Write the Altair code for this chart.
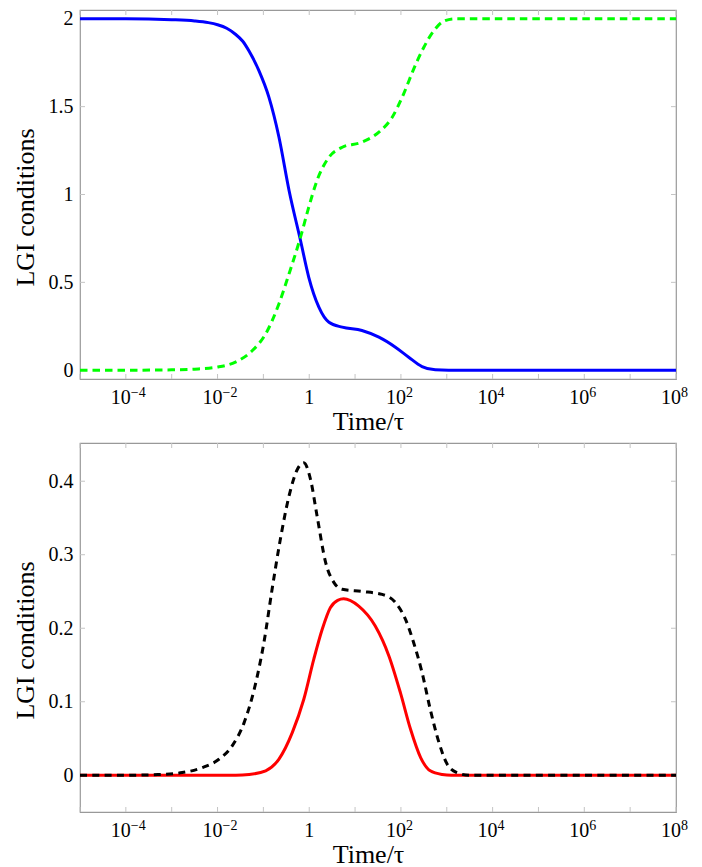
import altair as alt
import pandas as pd

# ---------------- data (log10 of Time/tau, value) ----------------
blue_logt = [-5, -4, -3, -2.5, -2.2, -2.0, -1.8, -1.61, -1.45, -1.31, -1.10, -0.88, -0.66, -0.44,
             -0.19, -0.01, 0.21, 0.43, 0.72, 1.15, 1.52, 1.88, 2.17, 2.46, 2.75, 3.04, 8]
blue_val = [2.0, 2.0, 1.995, 1.988, 1.978, 1.966, 1.946, 1.912, 1.872, 1.815, 1.706, 1.554, 1.326, 1.023,
            0.738, 0.529, 0.359, 0.273, 0.245, 0.226, 0.188, 0.131, 0.074, 0.021, 0.002, 0.0, 0.0]

green_logt = [-5, -4, -3, -2.5, -2.0, -1.61, -1.24, -0.95, -0.66, -0.44, -0.19, -0.01, 0.17, 0.43,
              0.72, 1.15, 1.52, 1.81, 2.06, 2.28, 2.50, 2.72, 2.93, 3.17, 8]
green_val = [0.0, 0.0, 0.002, 0.006, 0.018, 0.046, 0.112, 0.207, 0.378, 0.549, 0.757, 0.928, 1.08, 1.212,
             1.269, 1.298, 1.355, 1.44, 1.573, 1.715, 1.838, 1.933, 1.986, 2.0, 2.0]

black_logt = [-5, -4, -3.3, -2.77, -2.33, -1.97, -1.68, -1.42, -1.20, -0.99, -0.81, -0.63, -0.44,
              -0.26, -0.12, 0.03, 0.17, 0.36, 0.54, 0.72, 1.15, 1.59, 1.88, 2.10, 2.28, 2.46,
              2.64, 2.83, 3.01, 3.22, 3.49, 8]
black_val = [0.0, 0.0, 0.001, 0.0036, 0.0104, 0.0217, 0.040, 0.0716, 0.117, 0.180, 0.253, 0.321, 0.380,
             0.416, 0.425, 0.402, 0.353, 0.289, 0.262, 0.253, 0.250, 0.246, 0.235, 0.212, 0.180, 0.140,
             0.0897, 0.0444, 0.015, 0.0036, 0.0, 0.0]

red_logt = [-5, -1.6, -1.31, -0.95, -0.66, -0.37, -0.12, 0.10, 0.28, 0.46, 0.62, 0.75, 1.08, 1.44,
            1.74, 1.99, 2.21, 2.43, 2.64, 2.90, 3.1, 8]
red_val = [0.0, 0.0, 0.001, 0.006, 0.022, 0.058, 0.103, 0.158, 0.198, 0.228, 0.238, 0.240, 0.230, 0.203,
           0.162, 0.112, 0.0625, 0.024, 0.006, 0.001, 0.0, 0.0]

# x tick labels: base and superscript exponent
x_tick_exps = [-4, -2, 0, 2, 4, 6, 8]
x_tick_bases = ["10", "10", "1", "10", "10", "10", "10"]
x_tick_sups = ["−4", "−2", "", "2", "4", "6", "8"]
x_minor_exps = list(range(-5, 9))

top_y_ticks = [0, 0.5, 1, 1.5, 2]
top_y_labels = ["0", "0.5", "1", "1.5", "2"]
bot_y_ticks = [0, 0.1, 0.2, 0.3, 0.4]
bot_y_labels = ["0", "0.1", "0.2", "0.3", "0.4"]

x_title = "Time/τ"
y_title = "LGI conditions"

# ---------------- styling ----------------
W, H = 596, 369
FONT = "Liberation Serif"
TICK_LEN = 5
TICK_COLOR = "#c4c4c4"
LABEL_SIZE = 20
SUP_SIZE = 14


def series_df(logt, vals):
    return pd.DataFrame({"t": [10.0 ** v for v in logt], "v": vals})


def y_label_expr(ticks, labels):
    return "".join(f"abs(datum.value - {t}) < 1e-6 ? '{lab}' : " for t, lab in zip(ticks, labels)) + "''"


label_df = pd.DataFrame({
    "t": [10.0 ** e for e in x_tick_exps],
    "base": x_tick_bases,
    "sup": x_tick_sups,
})
label_pow = label_df[label_df["sup"] != ""]
label_one = label_df[label_df["sup"] == ""]


def panel(series, y_domain, y_ticks, y_labels):
    x_enc = alt.X(
        "t:Q",
        scale=alt.Scale(type="log", domain=[1e-5, 1e8], nice=False),
        axis=alt.Axis(
            values=[10.0 ** e for e in x_tick_exps],
            labels=False,
            title=x_title,
            titleBaseline="alphabetic",
            titleY=50,
            titleX=288,
            titleAlign="center",
        ),
    )
    y_enc = alt.Y(
        "v:Q",
        scale=alt.Scale(domain=y_domain, nice=False, zero=False),
        axis=alt.Axis(
            values=y_ticks,
            labelExpr=y_label_expr(y_ticks, y_labels),
            title=y_title,
            labelPadding=7,
            labelBaseline="middle",
            titleBaseline="alphabetic",
            titleAlign="center",
            titleX=-47,
            titleY=197,
            labelOverlap=False,
        ),
    )
    layers = []
    xt = pd.DataFrame({"t": [10.0 ** e for e in x_minor_exps]})
    yt = pd.DataFrame({"v": y_ticks})
    layers.append(alt.Chart(xt).mark_rule(color=TICK_COLOR, strokeWidth=1).encode(
        x=x_enc, y=alt.value(H - TICK_LEN), y2=alt.value(H)))
    layers.append(alt.Chart(xt).mark_rule(color=TICK_COLOR, strokeWidth=1).encode(
        x=x_enc, y=alt.value(0), y2=alt.value(TICK_LEN)))
    layers.append(alt.Chart(yt).mark_rule(color=TICK_COLOR, strokeWidth=1).encode(
        y=y_enc, x=alt.value(0), x2=alt.value(TICK_LEN)))
    layers.append(alt.Chart(yt).mark_rule(color=TICK_COLOR, strokeWidth=1).encode(
        y=y_enc, x=alt.value(W - TICK_LEN), x2=alt.value(W)))
    # x tick labels (base + raised exponent)
    layers.append(alt.Chart(label_pow).mark_text(
        font=FONT, fontSize=LABEL_SIZE, align="right", baseline="alphabetic", dx=5, color="black"
    ).encode(x=x_enc, y=alt.value(H + 25), text="base:N"))
    layers.append(alt.Chart(label_pow).mark_text(
        font=FONT, fontSize=SUP_SIZE, align="left", baseline="alphabetic", dx=5, color="black"
    ).encode(x=x_enc, y=alt.value(H + 18), text="sup:N"))
    layers.append(alt.Chart(label_one).mark_text(
        font=FONT, fontSize=LABEL_SIZE, align="center", baseline="alphabetic", color="black"
    ).encode(x=x_enc, y=alt.value(H + 25), text="base:N"))
    for df, color, dash in series:
        kw = dict(color=color, strokeWidth=3, interpolate="monotone", clip=True)
        if dash:
            kw["strokeDash"] = dash
        layers.append(alt.Chart(df).mark_line(**kw).encode(x=x_enc, y=y_enc))
    return alt.layer(*layers).properties(width=W, height=H)


top = panel(
    [
        (series_df(blue_logt, blue_val), "#0000ff", None),
        (series_df(green_logt, green_val), "#00ff00", [7.5, 5]),
    ],
    [-0.05, 2.05], top_y_ticks, top_y_labels,
)
bottom = panel(
    [
        (series_df(red_logt, red_val), "#ff0000", None),
        (series_df(black_logt, black_val), "#000000", [7, 5.3]),
    ],
    [-0.05, 0.452], bot_y_ticks, bot_y_labels,
)

chart = (
    alt.vconcat(top, bottom, spacing=6)
    .properties(padding={"left": 3, "top": 0, "right": 5, "bottom": 0}, background="white")
    .configure_view(stroke="#999999", strokeWidth=1.2)
    .configure_axis(
        domain=False, ticks=False, grid=False,
        labelFont=FONT, labelFontSize=LABEL_SIZE, labelColor="#000000",
        titleFont=FONT, titleFontSize=26, titleFontWeight="normal", titleColor="#000000",
    )
)

chart.save("out.html", embed_options={"renderer": "svg", "actions": False})
